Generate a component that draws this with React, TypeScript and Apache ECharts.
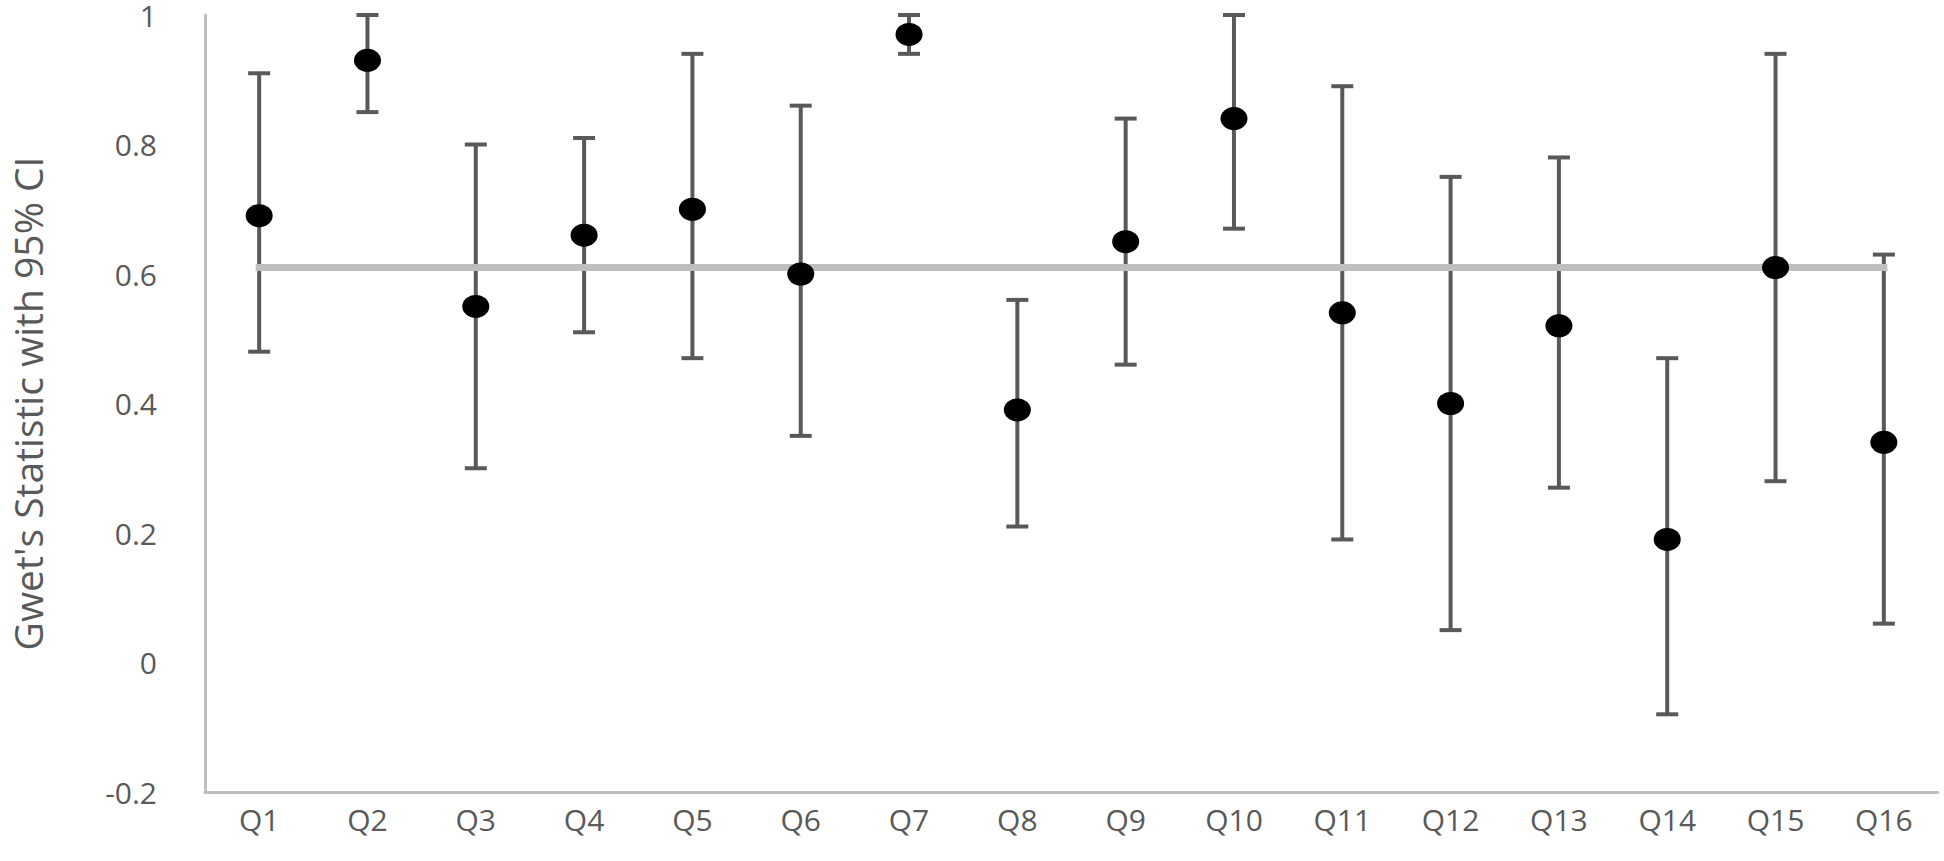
import React, { useEffect, useRef } from "react";
import * as echarts from "echarts";

const CATEGORIES = ["Q1", "Q2", "Q3", "Q4", "Q5", "Q6", "Q7", "Q8", "Q9", "Q10", "Q11", "Q12", "Q13", "Q14", "Q15", "Q16"];
const GWET = [0.69, 0.93, 0.55, 0.66, 0.70, 0.60, 0.97, 0.39, 0.65, 0.84, 0.54, 0.40, 0.52, 0.19, 0.61, 0.34];
const CI_LOW = [0.48, 0.85, 0.30, 0.51, 0.47, 0.35, 0.94, 0.21, 0.46, 0.67, 0.19, 0.05, 0.27, -0.08, 0.28, 0.06];
const CI_HIGH = [0.91, 1.00, 0.80, 0.81, 0.94, 0.86, 1.00, 0.56, 0.84, 1.00, 0.89, 0.75, 0.78, 0.47, 0.94, 0.63];
const REF_VALUE = 0.61;
const Y_MIN = -0.2;
const Y_MAX = 1;
const Y_STEP = 0.2;
const Y_TITLE = "Gwet's Statistic with 95% CI";

const FONT = "'Open Sans', 'Liberation Sans', sans-serif";
const TEXT_COLOR = "#595959";
const AXIS_COLOR = "#BFBFBF";
const BAR_COLOR = "#595959";

export default function App() {
  const ref = useRef<HTMLDivElement>(null);

  useEffect(() => {
    if (!ref.current) return;
    const chart = echarts.init(ref.current, undefined, { renderer: "svg" });

    const errData = CATEGORIES.map((_, i) => [i, CI_LOW[i], CI_HIGH[i]]);
    const refData = CATEGORIES.map(() => REF_VALUE);

    chart.setOption({
      animation: false,
      backgroundColor: "#ffffff",
      grid: { left: 203, right: 6, top: 15, bottom: 69, containLabel: false },
      xAxis: {
        type: "category",
        data: CATEGORIES,
        boundaryGap: true,
        axisLine: { show: true, onZero: false, lineStyle: { color: AXIS_COLOR, width: 3 } },
        axisTick: { show: false },
        axisLabel: { color: TEXT_COLOR, fontSize: 30, fontFamily: FONT, margin: 12 },
        splitLine: { show: false },
      },
      yAxis: {
        type: "value",
        min: Y_MIN,
        max: Y_MAX,
        interval: Y_STEP,
        name: Y_TITLE,
        nameLocation: "middle",
        nameGap: 158,
        nameTextStyle: { color: TEXT_COLOR, fontSize: 39, fontFamily: FONT },
        axisLine: { show: true, onZero: false, lineStyle: { color: AXIS_COLOR, width: 3 } },
        axisTick: { show: false },
        splitLine: { show: false },
        axisLabel: {
          color: TEXT_COLOR,
          fontSize: 30,
          lineHeight: 28,
          fontFamily: FONT,
          margin: 48,
          formatter: (v: number) => String(Math.round(v * 10) / 10),
        },
      },
      series: [
        {
          type: "custom",
          name: "CI",
          z: 1,
          data: errData,
          renderItem: (params: any, api: any) => {
            const idx = api.value(0);
            const lo = api.coord([idx, api.value(1)]);
            const hi = api.coord([idx, api.value(2)]);
            const half = 11;
            const style = { stroke: BAR_COLOR, lineWidth: 4 };
            return {
              type: "group",
              children: [
                { type: "line", shape: { x1: lo[0], y1: lo[1], x2: hi[0], y2: hi[1] }, style },
                { type: "line", shape: { x1: hi[0] - half, y1: hi[1], x2: hi[0] + half, y2: hi[1] }, style },
                { type: "line", shape: { x1: lo[0] - half, y1: lo[1], x2: lo[0] + half, y2: lo[1] }, style },
              ],
            };
          },
        },
        {
          type: "line",
          name: "Reference",
          z: 2,
          data: refData,
          showSymbol: false,
          symbol: "none",
          lineStyle: { color: "#BFBFBF", width: 7, cap: "square" },
          silent: true,
        },
        {
          type: "scatter",
          name: "Gwet",
          z: 3,
          data: GWET,
          symbol: "path://M0,-1A1,1 0 1,1 0,1A1,1 0 1,1 0,-1Z",
          symbolSize: [27, 23],
          itemStyle: { color: "#000000", opacity: 1 },
        },
      ],
    });

    return () => {
      chart.dispose();
    };
  }, []);

  return (
    <div
      ref={ref}
      style={{ position: "absolute", left: 0, top: 0, width: 1944, height: 861, background: "#fff" }}
    />
  );
}
